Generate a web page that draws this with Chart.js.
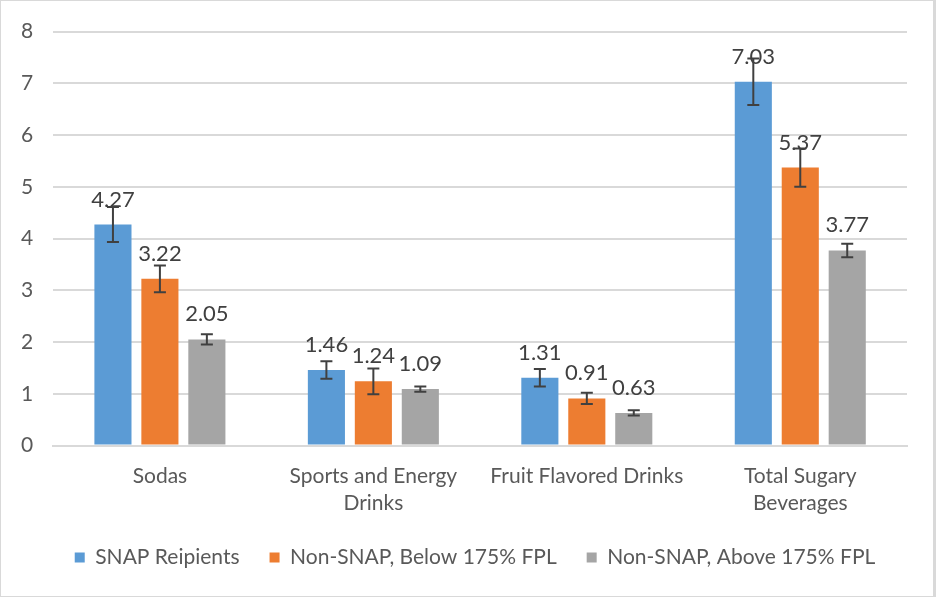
<!DOCTYPE html>
<html>
<head>
<meta charset="utf-8">
<script src="https://cdn.jsdelivr.net/npm/chart.js@4/dist/chart.umd.min.js"></script>
<style>
html,body{margin:0;padding:0;background:#fff;}
#wrap{width:936px;height:597px;box-sizing:border-box;border:1px solid #d9d9d9;border-right:3px solid #d9d9d9;position:relative;}
</style>
</head>
<body>
<div id="wrap"><canvas id="c"></canvas></div>
<script>
const categories = ['Sodas', ['Sports and Energy','Drinks'], 'Fruit Flavored Drinks', ['Total Sugary','Beverages']];
const seriesNames = ['SNAP Reipients', 'Non-SNAP, Below 175% FPL', 'Non-SNAP, Above 175% FPL'];
const snapValues = [4.27, 1.46, 1.31, 7.03];
const belowValues = [3.22, 1.24, 0.91, 5.37];
const aboveValues = [2.05, 1.09, 0.63, 3.77];
const snapErrors = [0.34, 0.17, 0.17, 0.45];
const belowErrors = [0.26, 0.25, 0.11, 0.37];
const aboveErrors = [0.10, 0.05, 0.05, 0.13];
const yTicks = [0, 1, 2, 3, 4, 5, 6, 7, 8];

const colors = ['#5B9BD5', '#ED7D31', '#A5A5A5'];
const errorSets = [snapErrors, belowErrors, aboveErrors];
const FONT = 'Lato';
const TEXT = '#595959';

const legendShift = {
  id: 'legendShift',
  afterLayout(chart) {
    if (chart.legend) { chart.legend.left += 21; chart.legend.right += 21; }
  }
};

const errorBarPlugin = {
  id: 'errorBars',
  afterDatasetsDraw(chart) {
    const ctx = chart.ctx;
    const y = chart.scales.y;
    chart.data.datasets.forEach((ds, i) => {
      const meta = chart.getDatasetMeta(i);
      meta.data.forEach((el, j) => {
        const v = ds.data[j], e = errorSets[i][j];
        const top = y.getPixelForValue(v + e), bot = y.getPixelForValue(v - e);
        ctx.save();
        ctx.strokeStyle = '#404040';
        ctx.lineWidth = 2;
        ctx.beginPath();
        ctx.moveTo(el.x, top); ctx.lineTo(el.x, bot);
        ctx.moveTo(el.x - 6, top); ctx.lineTo(el.x + 6, top);
        ctx.moveTo(el.x - 6, bot); ctx.lineTo(el.x + 6, bot);
        ctx.stroke();
        ctx.restore();
      });
    });
    chart.data.datasets.forEach((ds, i) => {
      const meta = chart.getDatasetMeta(i);
      meta.data.forEach((el, j) => {
        ctx.save();
        ctx.fillStyle = '#404040';
        ctx.font = '22px ' + FONT;
        ctx.textAlign = 'center';
        ctx.textBaseline = 'alphabetic';
        ctx.fillText(ds.data[j].toFixed(2), el.x, el.y - 18);
        ctx.restore();
      });
    });
  }
};

new Chart(document.getElementById('c'), {
  type: 'bar',
  data: {
    labels: categories,
    datasets: [
      { label: seriesNames[0], data: snapValues, backgroundColor: colors[0] },
      { label: seriesNames[1], data: belowValues, backgroundColor: colors[1] },
      { label: seriesNames[2], data: aboveValues, backgroundColor: colors[2] }
    ]
  },
  options: {
    responsive: true,
    maintainAspectRatio: false,
    animation: false,
    layout: { padding: { left: 0, right: 26, top: 10, bottom: 18 } },
    datasets: { bar: { categoryPercentage: 0.66, barPercentage: 0.79 } },
    scales: {
      x: {
        grid: { display: false, drawTicks: false },
        border: { color: '#d9d9d9', width: 2 },
        ticks: { color: TEXT, font: { family: FONT, size: 21, lineHeight: 1.25 }, padding: 18, maxRotation: 0, autoSkip: false },
        afterFit(scale) { scale.height = scale.height - 17; }
      },
      y: {
        min: 0, max: 8,
        afterBuildTicks(axis) { axis.ticks = yTicks.map(v => ({ value: v })); },
        grid: { color: '#d9d9d9', lineWidth: 2, drawTicks: false },
        border: { display: false },
        ticks: { color: TEXT, font: { family: FONT, size: 21, lineHeight: 1.0 }, padding: 20 }
      }
    },
    plugins: {
      legend: {
        position: 'bottom',
        labels: { color: TEXT, font: { family: FONT, size: 21 }, boxWidth: 10, boxHeight: 10, padding: 30 }
      },
      tooltip: { enabled: false }
    }
  },
  plugins: [errorBarPlugin, legendShift]
});
</script>
</body>
</html>
